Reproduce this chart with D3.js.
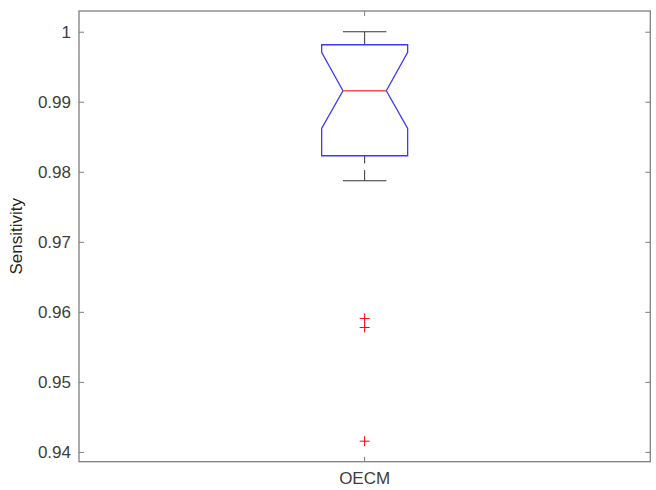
<!DOCTYPE html>
<html><head><meta charset="utf-8">
<script src="https://cdn.jsdelivr.net/npm/d3@7"></script>
<style>html,body{margin:0;padding:0;background:#fff;}svg{display:block;}</style>
</head><body>
<svg id="chart" width="656" height="490"></svg>
<script>
const categories = ["OECM"];
const q1 = [0.98229];
const medians = [0.99157];
const q3 = [0.99814];
const notchLo = [0.98620];
const notchHi = [0.99706];
const whiskerLo = [0.97871];
const whiskerHi = [1.0];
const outliers = [[0.95906, 0.95777, 0.94153]];
const yTicks = [0.94, 0.95, 0.96, 0.97, 0.98, 0.99, 1];
const yDomain = [0.9386, 1.00296];

const svg = d3.select("#chart");
const L = 79, R = 650.3, T = 11, B = 461.7;
const y = d3.scaleLinear().domain(yDomain).range([B, T]);
const x = d3.scaleBand().domain(categories).range([L, R]);
const boxW = 86, capW = 43.4, notchW = 43.4;
const font = "'Liberation Sans', Arial, sans-serif";

// axes frame
const axisColor = "#7f7f7f";
const gy = svg.append("g").attr("transform", `translate(${L},0)`)
  .call(d3.axisLeft(y).tickValues(yTicks).tickFormat(d3.format("~g")).tickSize(0).tickPadding(8));
gy.select(".domain").remove();
gy.selectAll("text").attr("font-family", font).attr("font-size", 17).attr("fill", "#404040");
const gyr = svg.append("g").attr("transform", `translate(${R},0)`)
  .call(d3.axisLeft(y).tickValues(yTicks).tickFormat("").tickSize(5));
gyr.select(".domain").remove();
gyr.selectAll("line").attr("stroke", axisColor);
const gyl = svg.append("g").attr("transform", `translate(${L},0)`)
  .call(d3.axisRight(y).tickValues(yTicks).tickFormat("").tickSize(5));
gyl.select(".domain").remove();
gyl.selectAll("line").attr("stroke", axisColor);

const gx = svg.append("g").attr("transform", `translate(0,${B})`)
  .call(d3.axisBottom(x).tickSize(0).tickPadding(10));
gx.select(".domain").remove();
gx.selectAll("text").attr("font-family", font).attr("font-size", 17).attr("fill", "#404040");
const gxt = svg.append("g").attr("transform", `translate(0,${B})`)
  .call(d3.axisTop(x).tickFormat("").tickSize(5));
gxt.select(".domain").remove();
gxt.selectAll("line").attr("stroke", axisColor);
const gxt2 = svg.append("g").attr("transform", `translate(0,${T})`)
  .call(d3.axisBottom(x).tickFormat("").tickSize(5));
gxt2.select(".domain").remove();
gxt2.selectAll("line").attr("stroke", axisColor);

svg.append("rect").attr("x", L).attr("y", T).attr("width", R - L).attr("height", B - T)
  .attr("fill", "none").attr("stroke", axisColor).attr("stroke-width", 1.3);

// y label
svg.append("text").attr("transform", `translate(22,${(T + B) / 2}) rotate(-90)`)
  .attr("text-anchor", "middle").attr("font-family", font).attr("font-size", 17)
  .attr("fill", "#262626").text("Sensitivity");

categories.forEach((c, i) => {
  const cx = x(c) + x.bandwidth() / 2;
  const g = svg.append("g");
  // whiskers
  g.append("line").attr("x1", cx).attr("x2", cx).attr("y1", y(whiskerLo[i])).attr("y2", y(q1[i]))
    .attr("stroke", "#333").attr("stroke-width", 1).attr("stroke-dasharray", "10.7,6.7");
  g.append("line").attr("x1", cx).attr("x2", cx).attr("y1", y(whiskerHi[i])).attr("y2", y(q3[i]))
    .attr("stroke", "#333").attr("stroke-width", 1);
  [whiskerLo[i], whiskerHi[i]].forEach(v => {
    g.append("line").attr("x1", cx - capW / 2).attr("x2", cx + capW / 2).attr("y1", y(v)).attr("y2", y(v))
      .attr("stroke", "#333").attr("stroke-width", 1.1);
  });
  // notched box
  const l = cx - boxW / 2, r = cx + boxW / 2, nl = cx - notchW / 2, nr = cx + notchW / 2;
  const pts = [
    [l, y(q3[i])], [r, y(q3[i])], [r, y(notchHi[i])], [nr, y(medians[i])], [r, y(notchLo[i])],
    [r, y(q1[i])], [l, y(q1[i])], [l, y(notchLo[i])], [nl, y(medians[i])], [l, y(notchHi[i])]
  ];
  g.append("path").attr("d", d3.line()(pts) + "Z").attr("fill", "none")
    .attr("stroke", "#3a3aff").attr("stroke-width", 1.3).attr("stroke-linejoin", "miter");
  g.append("line").attr("x1", nl).attr("x2", nr).attr("y1", y(medians[i])).attr("y2", y(medians[i]))
    .attr("stroke", "#ff4d4d").attr("stroke-width", 1.3);
  // outliers
  outliers[i].forEach(v => {
    const py = y(v), s = 5;
    g.append("path").attr("d", `M${cx - s},${py}H${cx + s}M${cx},${py - s}V${py + s}`)
      .attr("stroke", "#ff0000").attr("stroke-width", 1).attr("fill", "none");
  });
});
</script>
</body></html>
